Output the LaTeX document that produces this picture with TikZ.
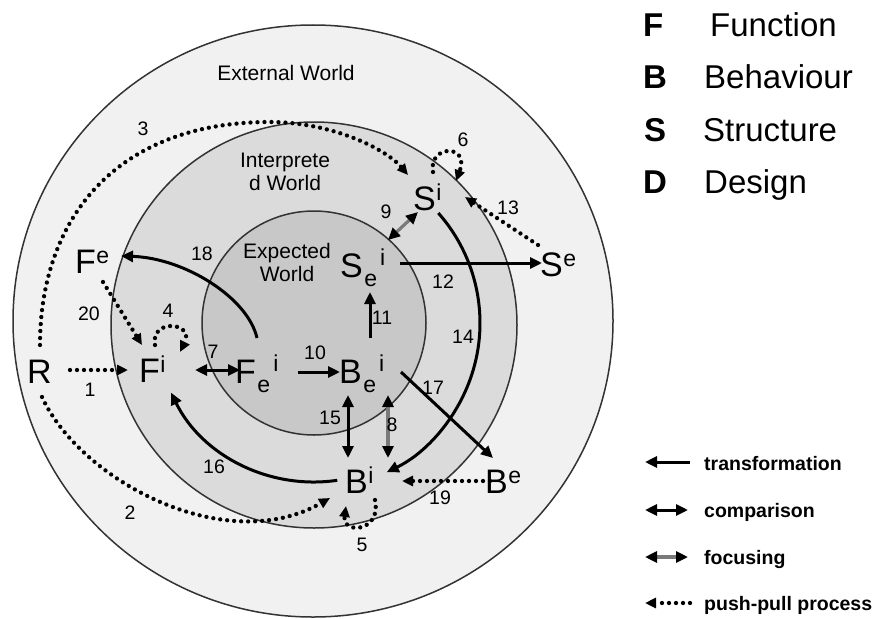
\documentclass[tikz,border=0pt]{standalone}
\usepackage{fontspec}
\setmainfont{Liberation Sans}
\usetikzlibrary{arrows.meta}
\definecolor{outerc}{HTML}{F1F1F1}
\definecolor{midc}{HTML}{DBDBDB}
\definecolor{innerc}{HTML}{C8C8C8}
\definecolor{ringline}{HTML}{333333}
\definecolor{focusc}{HTML}{7A7A7A}
\newcommand{\sbs}[1]{{\fontsize{23}{23}\selectfont #1}}
\newcommand{\subsup}[1]{#1\hspace{1.5pt}\raisebox{-9pt}{\sbs e}\hspace{3pt}\raisebox{12pt}{\sbs i}}
\newcommand{\supx}[2]{#1\hspace{0.5pt}\raisebox{10pt}{\sbs #2}}
\begin{document}
\begin{tikzpicture}[x=1pt,y=1pt,
  ring/.style={draw=ringline, line width=1.5pt},
  big/.style={font=\fontsize{34}{34}\selectfont, inner sep=0pt, anchor=base west},
  num/.style={font=\fontsize{19.5}{19.5}\selectfont, inner sep=0pt},
  world/.style={font=\fontsize{21}{23}\selectfont, inner sep=0pt, align=center},
  legl/.style={font=\bfseries\fontsize{33}{33}\selectfont, inner sep=0pt, anchor=base west},
  legw/.style={font=\fontsize{33}{33}\selectfont, inner sep=0pt, anchor=base west},
  legs/.style={font=\bfseries\fontsize{19.5}{19.5}\selectfont, inner sep=0pt, anchor=base west},
  trans/.style={line width=3pt, -{Triangle[length=12pt,width=11pt]}},
  comp/.style={line width=3pt, {Triangle[length=12pt,width=11pt]}-{Triangle[length=12pt,width=11pt]}},
  focus/.style={line width=3.2pt, draw=focusc, {Triangle[length=12pt,width=11pt,color=black]}-{Triangle[length=12pt,width=11pt,color=black]}},
  push/.style={line width=4.3pt, line cap=round, dash pattern=on 0pt off 7pt, -{Triangle[length=11pt,width=10pt]}}
]
\useasboundingbox (0,0) rectangle (877,-618);
\fill[white] (0,0) rectangle (877,-618);
% worlds
\draw[ring, fill=outerc] (313,-321) ellipse [x radius=300pt, y radius=296pt];
\draw[ring, fill=midc] (314,-325) circle [radius=203pt];
\draw[ring, fill=innerc] (314,-323) circle [radius=112pt];
\coordinate (C) at (314,-323);

% connector end points
\coordinate (p1s) at (70,-370);   \coordinate (p1e) at (128,-370);
\coordinate (p2s) at (42,-397);   \coordinate (p2e) at (330,-498);
\coordinate (p3s) at (40,-345);   \coordinate (p3m) at (270,-122); \coordinate (p3e) at (408,-175);
\coordinate (p4s) at (155,-345);  \coordinate (p4e) at (180,-352);
\coordinate (p5s) at (375,-500);  \coordinate (p5e) at (346,-506);
\coordinate (p6s) at (433,-172);  \coordinate (p6e) at (456,-181);
\coordinate (p7s) at (195,-370);  \coordinate (p7e) at (240,-370);
\coordinate (p8s) at (388,-395);  \coordinate (p8e) at (388,-458);
\coordinate (p9s) at (388,-240);  \coordinate (p9e) at (418,-212);
\coordinate (p10s) at (298,-372); \coordinate (p10e) at (340,-372);
\coordinate (p11s) at (370,-338); \coordinate (p11e) at (370,-292);
\coordinate (p12s) at (400,-263); \coordinate (p12e) at (542,-263);
\coordinate (p13s) at (538,-245); \coordinate (p13e) at (465,-197);
\coordinate (p14s) at ([shift={(41.5:166)}]C);
\coordinate (p15s) at (348,-395); \coordinate (p15e) at (348,-458);
\coordinate (p16s) at ([shift={(-81.6:159)}]C);
\coordinate (p17s) at (401,-372); \coordinate (p17e) at (493,-458);
\coordinate (p18s) at (257,-338); \coordinate (p18e) at (121,-256);
\coordinate (p19s) at (490,-481); \coordinate (p19e) at (402,-481);
\coordinate (p20s) at (103,-282); \coordinate (p20e) at (142,-345);

% push-pull
\draw[push] (p1s) -- (p1e);
\draw[push] (p2s) .. controls (80,-480) and (225,-558) .. (p2e);
\draw[push] (p3s) .. controls (40,-220) and (115,-122) .. (p3m) .. controls (330,-122) and (385,-148) .. (p3e);
\draw[push] (p4s) .. controls (150,-318) and (195,-322) .. (p4e);
\draw[push] (p5s) .. controls (382,-532) and (342,-535) .. (p5e);
\draw[push] (p6s) .. controls (428,-145) and (470,-143) .. (p6e);
\draw[push] (p13s) -- (p13e);
\draw[push] (p19s) -- (p19e);
\draw[push] (p20s) -- (p20e);
% transformation
\draw[trans] (p10s) -- (p10e);
\draw[trans] (p11s) -- (p11e);
\draw[trans] (p12s) -- (p12e);
\draw[trans] (p14s) arc[start angle=41.5, end angle=-64, radius=166pt];
\draw[trans] (p16s) arc[start angle=-81.6, end angle=-154, radius=159pt];
\draw[trans] (p17s) -- (p17e);
\draw[trans] (p18s) .. controls (248,-298) and (185,-258) .. (p18e);
% comparison
\draw[comp] (p7s) -- (p7e);
\draw[comp] (p15s) -- (p15e);
% focusing
\draw[focus] (p8s) -- (p8e);
\draw[focus] (p9s) -- (p9e);

% world labels
\node[world, anchor=base] (ext) at (286,-81) {External World};
\node[world] (intw) at (285,-172) {Interprete\\d World};
\node[world] (expw) at (287,-262) {Expected\\World};

% FBS nodes
\node[big] (R) at (27,-383) {R};
\node[big] (Fi) at (139,-382) {\supx{F}{i}};
\node[big] (Fei) at (235,-383) {\subsup{F}};
\node[big] (Bei) at (339,-383) {\subsup{B}};
\node[big] (Bi) at (345,-493) {\supx{B}{i}};
\node[big] (Be) at (485,-493) {\supx{B}{e}};
\node[big] (Si) at (413,-210) {\supx{S}{i}};
\node[big] (Sei) at (340,-277) {\subsup{S}};
\node[big] (Se) at (540,-276) {\supx{S}{e}};
\node[big] (Fe) at (75,-273) {\supx{F}{e}};

% numbers
\node[num] (n1) at (90,-390) {1};
\node[num] (n2) at (130,-513) {2};
\node[num] (n3) at (143,-129) {3};
\node[num] (n4) at (168,-311) {4};
\node[num] (n5) at (362,-545) {5};
\node[num] (n6) at (463,-140) {6};
\node[num] (n7) at (213,-352) {7};
\node[num] (n8) at (392,-425) {8};
\node[num] (n9) at (386,-212) {9};
\node[num] (n10) at (315,-353) {10};
\node[num] (n11) at (382,-318) {11};
\node[num] (n12) at (443,-282) {12};
\node[num] (n13) at (508,-208) {13};
\node[num] (n14) at (463,-337) {14};
\node[num] (n15) at (330,-418) {15};
\node[num] (n16) at (214,-467) {16};
\node[num] (n17) at (433,-388) {17};
\node[num] (n18) at (202,-254) {18};
\node[num] (n19) at (440,-498) {19};
\node[num] (n20) at (89,-314) {20};

% legend top
\node[legl] (lF) at (643,-37) {F};
\node[legw] (wF) at (710,-37) {Function};
\node[legl] (lB) at (643,-88) {B};
\node[legw] (wB) at (704,-88) {Behaviour};
\node[legl] (lS) at (644,-141) {S};
\node[legw] (wS) at (703,-141) {Structure};
\node[legl] (lD) at (643,-193) {D};
\node[legw] (wD) at (704,-193) {Design};

% legend bottom
\coordinate (k1s) at (690,-462); \coordinate (k1e) at (645,-462);
\coordinate (k2s) at (645,-510); \coordinate (k2e) at (688,-510);
\coordinate (k3s) at (645,-557); \coordinate (k3e) at (688,-557);
\coordinate (k4s) at (690,-603); \coordinate (k4e) at (645,-603);
\draw[trans] (k1s) -- (k1e);
\draw[comp] (k2s) -- (k2e);
\draw[focus] (k3s) -- (k3e);
\draw[push] (k4s) -- (k4e);
\node[legs] (t1) at (704,-470) {transformation};
\node[legs] (t2) at (704,-517) {comparison};
\node[legs] (t3) at (704,-564) {focusing};
\node[legs] (t4) at (704,-610) {push-pull process};
\end{tikzpicture}
\end{document}
